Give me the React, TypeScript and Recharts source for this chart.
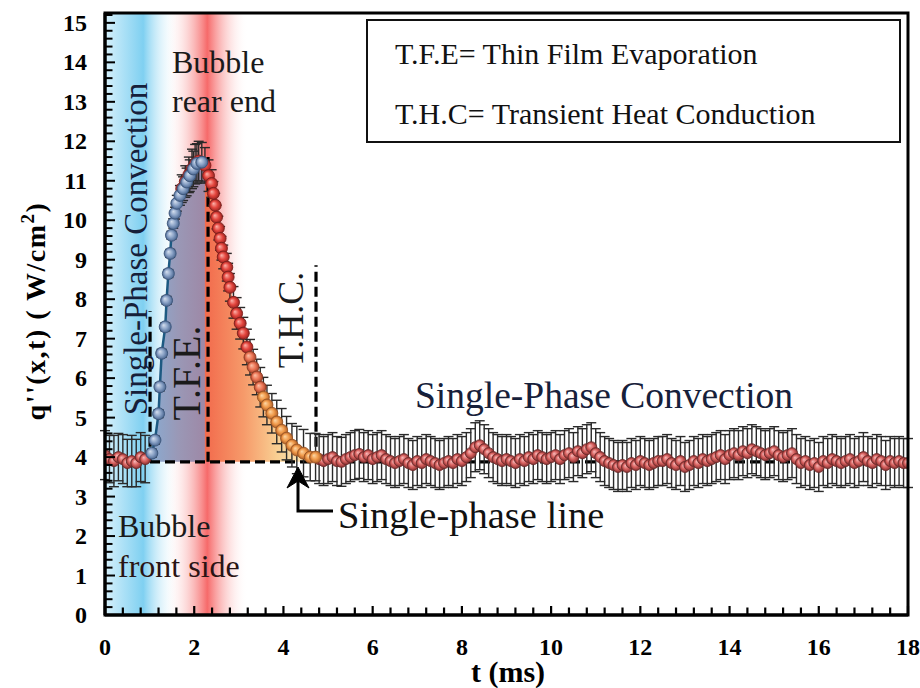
import React from 'react';
import {
  ComposedChart,
  XAxis,
  YAxis,
  Scatter,
  ErrorBar,
  Area,
  ReferenceArea,
  ReferenceLine,
} from 'recharts';

const FONT = '"Liberation Serif", "Times New Roman", Times, serif';

// ---------- data ----------
// baseline before the bubble arrives (ms, W/cm2)
const preT = [0, 0.1, 0.2, 0.3, 0.4, 0.5, 0.6, 0.7, 0.8, 0.9];
const preQ = [4.05, 3.95, 3.9, 4.0, 3.95, 3.85, 3.9, 3.85, 4.0, 3.95];
const preErr = [0.62, 0.6, 0.65, 0.6, 0.62, 0.6, 0.65, 0.6, 0.62, 0.6];

// rising part (blue points)
const riseT = [1.05, 1.12, 1.2, 1.23, 1.27, 1.35, 1.38, 1.42, 1.46, 1.49, 1.53, 1.57, 1.61, 1.68, 1.75, 1.83, 1.9, 1.98, 2.06, 2.17];
const riseQ = [4.1, 4.43, 5.1, 5.78, 6.63, 7.3, 7.97, 8.65, 9.16, 9.62, 9.92, 10.18, 10.43, 10.63, 10.8, 10.97, 11.13, 11.3, 11.44, 11.47];
const riseErr = [0.1, 0.1, 0.1, 0.1, 0.1, 0.1, 0.1, 0.1, 0.1, 0.1, 0.12, 0.15, 0.2, 0.25, 0.3, 0.35, 0.4, 0.45, 0.5, 0.5];

// red points overlapping the top of the peak
const peakT = [1.72, 1.8, 1.88, 1.95, 2.02, 2.1];
const peakQ = [10.8, 10.98, 11.15, 11.3, 11.42, 11.5];
const peakErr = [0.35, 0.4, 0.45, 0.5, 0.5, 0.5];

// decaying part (red -> orange points)
const decayT = [2.24, 2.32, 2.39, 2.43, 2.47, 2.5, 2.54, 2.58, 2.61, 2.65, 2.73, 2.76, 2.8, 2.88, 2.95, 3.03, 3.1, 3.18, 3.25, 3.32, 3.4, 3.48, 3.55, 3.63, 3.74, 3.85, 3.96, 4.07, 4.19, 4.3, 4.45, 4.6, 4.72];
const decayQ = [11.39, 11.13, 10.93, 10.68, 10.38, 10.08, 9.8, 9.54, 9.29, 9.07, 8.81, 8.56, 8.3, 7.92, 7.64, 7.39, 7.14, 6.79, 6.53, 6.28, 6.03, 5.77, 5.52, 5.32, 5.11, 4.89, 4.68, 4.48, 4.3, 4.18, 4.1, 4.0, 4.0];
const decayErr = [0.45, 0.4, 0.35, 0.3, 0.3, 0.3, 0.3, 0.3, 0.3, 0.3, 0.35, 0.35, 0.35, 0.4, 0.4, 0.4, 0.4, 0.45, 0.45, 0.45, 0.45, 0.5, 0.5, 0.5, 0.5, 0.55, 0.55, 0.55, 0.55, 0.6, 0.6, 0.6, 0.6];

// single-phase convection after the bubble: samples every 0.1 ms from 4.8 ms
const tailStart = 4.8;
const tailStep = 0.1;
const tailQ = [
  3.95, 3.9,
  3.95, 4.0, 3.9, 3.88, 3.95, 4.0, 4.05, 4.08, 4.0, 4.05,
  3.95, 4.0, 4.05, 3.95, 3.9, 3.85, 3.9, 3.95, 3.85, 3.8,
  3.9, 3.85, 3.95, 3.9, 3.85, 3.8, 3.85, 3.9, 3.85, 3.95,
  3.9, 4.0, 4.1, 4.25, 4.3, 4.2, 4.1, 4.0, 3.95, 3.9,
  3.95, 3.9, 3.85, 3.95, 3.9, 4.0, 3.95, 4.05, 4.0, 3.95,
  4.0, 4.05, 3.95, 4.05, 4.1, 4.0, 4.15, 4.1, 4.2, 4.25,
  4.1, 4.0, 3.9, 3.85, 3.8, 3.75, 3.8, 3.75, 3.85, 3.8,
  3.9, 3.85, 3.8, 3.85, 3.9, 3.9, 3.95, 3.85, 3.8, 3.9,
  3.75, 3.8, 3.9, 3.85, 3.95, 3.9, 3.95, 4.0, 4.05, 3.95,
  4.05, 4.1, 4.05, 4.15, 4.1, 4.2, 4.15, 4.1, 4.05, 4.1,
  4.15, 4.05, 4.0, 4.05, 4.1, 3.95, 3.85, 3.9, 3.8, 3.85,
  3.75, 3.9, 3.85, 3.95, 3.9, 3.85, 3.9, 3.95, 3.85, 3.9,
  4.0, 3.9, 3.85, 3.95, 3.9, 3.8, 3.9, 3.85, 3.9, 3.85,
  3.85,
];
const tailErr = 0.62;

// reference lines (ms / W/cm2)
const singlePhaseLine = 3.88;
const tfeStartT = 1.01;
const tfeStartTop = 7.7;
const tfeEndT = 2.31;
const tfeEndTop = 11.6;
const thcEndT = 4.73;
const thcEndTop = 8.86;

// background bands (ms)
const frontBand = [0, 1.65];
const rearBand = [1.35, 3.2];

// axes
const xMax = 18;
const yMax = 15.25;
const xMajor = [0, 2, 4, 6, 8, 10, 12, 14, 16, 18];
const yMajor = [0, 1, 2, 3, 4, 5, 6, 7, 8, 9, 10, 11, 12, 13, 14, 15];
const xMinor: number[] = [];
for (let i = 0; i <= 45; i++) xMinor.push(Math.round(i * 4) / 10);
const yMinor: number[] = [];
for (let i = 0; i <= 76; i++) yMinor.push(Math.round(i * 2) / 10);

// plot geometry (the chart margins are derived from it)
const CW = 920;
const CH = 688;
const PLOT_LEFT = 105;
const PLOT_TOP = 13;
const PLOT_W = 803;
const PLOT_H = 602;
const XAXIS_H = 60;
const tx = (t: number) => PLOT_LEFT + (t / xMax) * PLOT_W;
const ty = (v: number) => PLOT_TOP + PLOT_H - (v / yMax) * PLOT_H;

// ---------- derived series ----------
const mk = (ts: number[], qs: number[], es: number[]) => ts.map((t, i) => ({ t, q: qs[i], e: es[i] }));
const preData = mk(preT, preQ, preErr);
const tailData = tailQ.map((q, i) => ({ t: Math.round((tailStart + i * tailStep) * 10) / 10, q, e: tailErr }));
const baselineData = [...preData, ...tailData];
const riseData = mk(riseT, riseQ, riseErr);
const peakData = mk(peakT, peakQ, peakErr);
const decayData = mk(decayT, decayQ, decayErr);

const areaData: any[] = [];
riseData.forEach((p) => areaData.push({ t: p.t, purple: [singlePhaseLine, p.q] }));
decayData.forEach((p, i) => {
  const row: any = { t: p.t, warm: [singlePhaseLine, p.q] };
  if (i === 0) row.purple = [singlePhaseLine, p.q];
  areaData.push(row);
});

// ---------- shapes ----------
const ball = (fill: string, stroke: string, r: number) => (p: any) =>
  p.cx == null ? <g /> : <circle cx={p.cx} cy={p.cy} r={r} fill={fill} stroke={stroke} strokeWidth={0.9} />;

const decayBall = (p: any) => {
  if (p.cx == null) return <g />;
  const t = p.payload?.t ?? 0;
  let fill = 'url(#gRed)';
  let stroke = '#7e1f1c';
  if (t >= 3.2 && t < 3.55) {
    fill = 'url(#gSalmon)';
    stroke = '#8a3a22';
  } else if (t >= 3.55) {
    fill = 'url(#gOrange)';
    stroke = '#9a5524';
  }
  return <circle cx={p.cx} cy={p.cy} r={6} fill={fill} stroke={stroke} strokeWidth={0.9} />;
};

const XLabel = (props: any) => {
  const { x, y, payload } = props;
  return (
    <text x={x} y={y + 40} textAnchor="middle" fontFamily={FONT} fontWeight="bold" fontSize={24} fill="#000">
      {payload.value}
    </text>
  );
};

const YLabel = (props: any) => {
  const { x, y, payload } = props;
  return (
    <text x={x - 18} y={y + 8} textAnchor="end" fontFamily={FONT} fontWeight="bold" fontSize={24} fill="#000">
      {payload.value}
    </text>
  );
};

const DASH = '10 5';
const isMajorX = (v: number) => xMajor.indexOf(v) >= 0;
const isMajorY = (v: number) => yMajor.indexOf(v) >= 0;

export default function App() {
  return (
    <div style={{ position: 'absolute', left: 0, top: 0, width: CW, height: CH, background: '#fff' }}>
      <ComposedChart
        width={CW}
        height={CH}
        data={areaData}
        margin={{ top: PLOT_TOP, right: CW - PLOT_LEFT - PLOT_W, bottom: CH - PLOT_TOP - PLOT_H - XAXIS_H, left: 0 }}
      >
        <defs>
          <linearGradient id="bandBlue" x1="0" y1="0" x2="1" y2="0">
            <stop offset="0" stopColor="#d6f0fb" stopOpacity={1} />
            <stop offset="0.52" stopColor="#7fd0f1" stopOpacity={1} />
            <stop offset="1" stopColor="#ffffff" stopOpacity={0} />
          </linearGradient>
          <linearGradient id="bandRed" x1="0" y1="0" x2="1" y2="0">
            <stop offset="0" stopColor="#ffffff" stopOpacity={0} />
            <stop offset="0.51" stopColor="#f66a6a" stopOpacity={1} />
            <stop offset="1" stopColor="#ffffff" stopOpacity={0} />
          </linearGradient>
          <linearGradient id="fillPurple" x1="0" y1="0" x2="1" y2="0">
            <stop offset="0" stopColor="#8aaad0" />
            <stop offset="0.5" stopColor="#9a98b6" />
            <stop offset="1" stopColor="#9e88a6" />
          </linearGradient>
          <linearGradient id="fillWarm" x1="0" y1="0" x2="1" y2="0">
            <stop offset="0" stopColor="#f26a4c" />
            <stop offset="0.35" stopColor="#f69a6a" />
            <stop offset="0.65" stopColor="#f9cf92" />
            <stop offset="1" stopColor="#fdeec4" />
          </linearGradient>
          <radialGradient id="gBlue" cx="0.5" cy="0.5" r="0.5" fx="0.35" fy="0.35">
            <stop offset="0" stopColor="#d6e0ef" />
            <stop offset="0.55" stopColor="#8aa2c6" />
            <stop offset="1" stopColor="#4a6690" />
          </radialGradient>
          <radialGradient id="gRed" cx="0.5" cy="0.5" r="0.5" fx="0.35" fy="0.35">
            <stop offset="0" stopColor="#fbb4ac" />
            <stop offset="0.55" stopColor="#e5473f" />
            <stop offset="1" stopColor="#9c2320" />
          </radialGradient>
          <radialGradient id="gSalmon" cx="0.5" cy="0.5" r="0.5" fx="0.35" fy="0.35">
            <stop offset="0" stopColor="#fbc2a8" />
            <stop offset="0.55" stopColor="#ec7656" />
            <stop offset="1" stopColor="#a4422a" />
          </radialGradient>
          <radialGradient id="gOrange" cx="0.5" cy="0.5" r="0.5" fx="0.35" fy="0.35">
            <stop offset="0" stopColor="#fcd8a8" />
            <stop offset="0.55" stopColor="#f09a4a" />
            <stop offset="1" stopColor="#b0602a" />
          </radialGradient>
          <radialGradient id="gPink" cx="0.5" cy="0.5" r="0.5" fx="0.35" fy="0.35">
            <stop offset="0" stopColor="#f6b9b9" />
            <stop offset="0.55" stopColor="#d8615f" />
            <stop offset="1" stopColor="#873232" />
          </radialGradient>
        </defs>

        <ReferenceArea zIndex={-60} x1={frontBand[0]} x2={frontBand[1]} y1={0} y2={yMax} fill="url(#bandBlue)" fillOpacity={1} stroke="none" />
        <ReferenceArea zIndex={-50} x1={rearBand[0]} x2={rearBand[1]} y1={0} y2={yMax} fill="url(#bandRed)" fillOpacity={1} stroke="none" />

        <Area zIndex={100} dataKey="purple" type="linear" stroke="none" fill="url(#fillPurple)" fillOpacity={1} isAnimationActive={false} dot={false} activeDot={false} />
        <Area zIndex={100} dataKey="warm" type="linear" stroke="none" fill="url(#fillWarm)" fillOpacity={1} isAnimationActive={false} dot={false} activeDot={false} />

        <XAxis
          dataKey="t"
          type="number"
          domain={[0, xMax]}
          ticks={xMajor}
          interval={0}
          allowDataOverflow
          height={XAXIS_H}
          tickSize={0}
          tickMargin={0}
          tickLine={false}
          tick={XLabel}
          axisLine={{ stroke: '#000', strokeWidth: 3 }}
        />
        <YAxis
          type="number"
          domain={[0, yMax]}
          ticks={yMajor}
          interval={0}
          allowDataOverflow
          width={PLOT_LEFT}
          tickSize={0}
          tickMargin={0}
          tickLine={false}
          tick={YLabel}
          axisLine={{ stroke: '#000', strokeWidth: 3 }}
        />

        <ReferenceLine zIndex={300} y={singlePhaseLine} stroke="#000" strokeWidth={3.2} strokeDasharray={DASH} />
        <ReferenceLine zIndex={300} segment={[{ x: tfeStartT, y: singlePhaseLine }, { x: tfeStartT, y: tfeStartTop }]} stroke="#000" strokeWidth={3.2} strokeDasharray={DASH} />
        <ReferenceLine zIndex={300} segment={[{ x: tfeEndT, y: singlePhaseLine }, { x: tfeEndT, y: tfeEndTop }]} stroke="#000" strokeWidth={3.2} strokeDasharray={DASH} />
        <ReferenceLine zIndex={300} segment={[{ x: thcEndT, y: singlePhaseLine }, { x: thcEndT, y: thcEndTop }]} stroke="#000" strokeWidth={3.2} strokeDasharray={DASH} />

        <Scatter data={baselineData} dataKey="q" shape={ball('url(#gPink)', '#6e2a2a', 5.5)} isAnimationActive={false}>
          <ErrorBar dataKey="e" direction="y" width={5} stroke="#2a2a2a" strokeWidth={1.4} />
        </Scatter>
        <Scatter data={decayData} dataKey="q" shape={decayBall} isAnimationActive={false}>
          <ErrorBar dataKey="e" direction="y" width={5} stroke="#2a2a2a" strokeWidth={1.4} />
        </Scatter>
        <Scatter data={peakData} dataKey="q" shape={ball('url(#gRed)', '#7e1f1c', 6)} isAnimationActive={false}>
          <ErrorBar dataKey="e" direction="y" width={5} stroke="#2a2a2a" strokeWidth={1.4} />
        </Scatter>
        <Scatter
          data={riseData}
          dataKey="q"
          line={{ stroke: '#1d5a82', strokeWidth: 2.5 }}
          lineType="joint"
          shape={ball('url(#gBlue)', '#3a5478', 6)}
          isAnimationActive={false}
        >
          <ErrorBar dataKey="e" direction="y" width={5} stroke="#2a2a2a" strokeWidth={1.4} />
        </Scatter>

        <ReferenceArea zIndex={700} x1={0} x2={xMax} y1={0} y2={yMax} fill="none" stroke="#000" strokeWidth={3} />
      </ComposedChart>

      <svg width={CW} height={CH} style={{ position: 'absolute', left: 0, top: 0, pointerEvents: 'none' }}>
        {/* inward axis ticks */}
        <g stroke="#000">
          {xMinor.map((v) => (
            <path key={'xt' + v} d={`M${tx(v)} ${ty(0)} V${ty(0) - (isMajorX(v) ? 9 : 7.5)}`} strokeWidth={2.2} fill="none" />
          ))}
          {yMinor.map((v) => (
            <path key={'yt' + v} d={`M${tx(0)} ${ty(v)} H${tx(0) + (isMajorY(v) ? 10 : 7.5)}`} strokeWidth={2} fill="none" />
          ))}
        </g>

        {/* legend box */}
        <rect x={367} y={20} width={533} height={122} fill="#fff" stroke="#111" strokeWidth={2} />
        <text x={395} y={64} fontFamily={FONT} fontSize={30} fill="#111">T.F.E= Thin Film Evaporation</text>
        <text x={395} y={124} fontFamily={FONT} fontSize={30} fill="#111">T.H.C= Transient Heat Conduction</text>

        {/* annotations */}
        <text x={172} y={73} fontFamily={FONT} fontSize={32} fill="#1a1a1a">Bubble</text>
        <text x={172} y={112} fontFamily={FONT} fontSize={32} fill="#1a1a1a">rear end</text>
        <text x={118} y={537} fontFamily={FONT} fontSize={32} fill="#1a1a1a">Bubble</text>
        <text x={118} y={577} fontFamily={FONT} fontSize={32} fill="#2a1414">front side</text>
        <text transform="translate(147,249) rotate(-90)" textAnchor="middle" fontFamily={FONT} fontSize={33} fill="#16203a">
          Single-Phase Convection
        </text>
        <text transform="translate(200,373) rotate(-90)" textAnchor="middle" fontFamily={FONT} fontSize={40} fill="#1a1a1a">
          T.F.E.
        </text>
        <text transform="translate(303,320) rotate(-90)" textAnchor="middle" fontFamily={FONT} fontSize={36} fill="#1a1a1a">
          T.H.C.
        </text>
        <text x={415} y={408} fontFamily={FONT} fontSize={37.5} fill="#16203a">Single-Phase Convection</text>
        <text x={338} y={528} fontFamily={FONT} fontSize={38.5} fill="#111">Single-phase line</text>
        <path d="M298 480 L298 511 L333 511" fill="none" stroke="#000" strokeWidth={3} />
        <path d="M298 467 L287 488 L298 481 L309 488 Z" fill="#000" stroke="#000" strokeWidth={1} />

        {/* axis titles */}
        <text x={508} y={682} textAnchor="middle" fontFamily={FONT} fontWeight="bold" fontSize={30} fill="#000">t (ms)</text>
        <text transform="translate(45,311) rotate(-90)" textAnchor="middle" fontFamily={FONT} fontWeight="bold" fontSize={28} letterSpacing={1.5} fill="#000">
          q''(x,t) ( W/cm<tspan dy={-11} fontSize={19}>2</tspan><tspan dy={11}>)</tspan>
        </text>
      </svg>
    </div>
  );
}
